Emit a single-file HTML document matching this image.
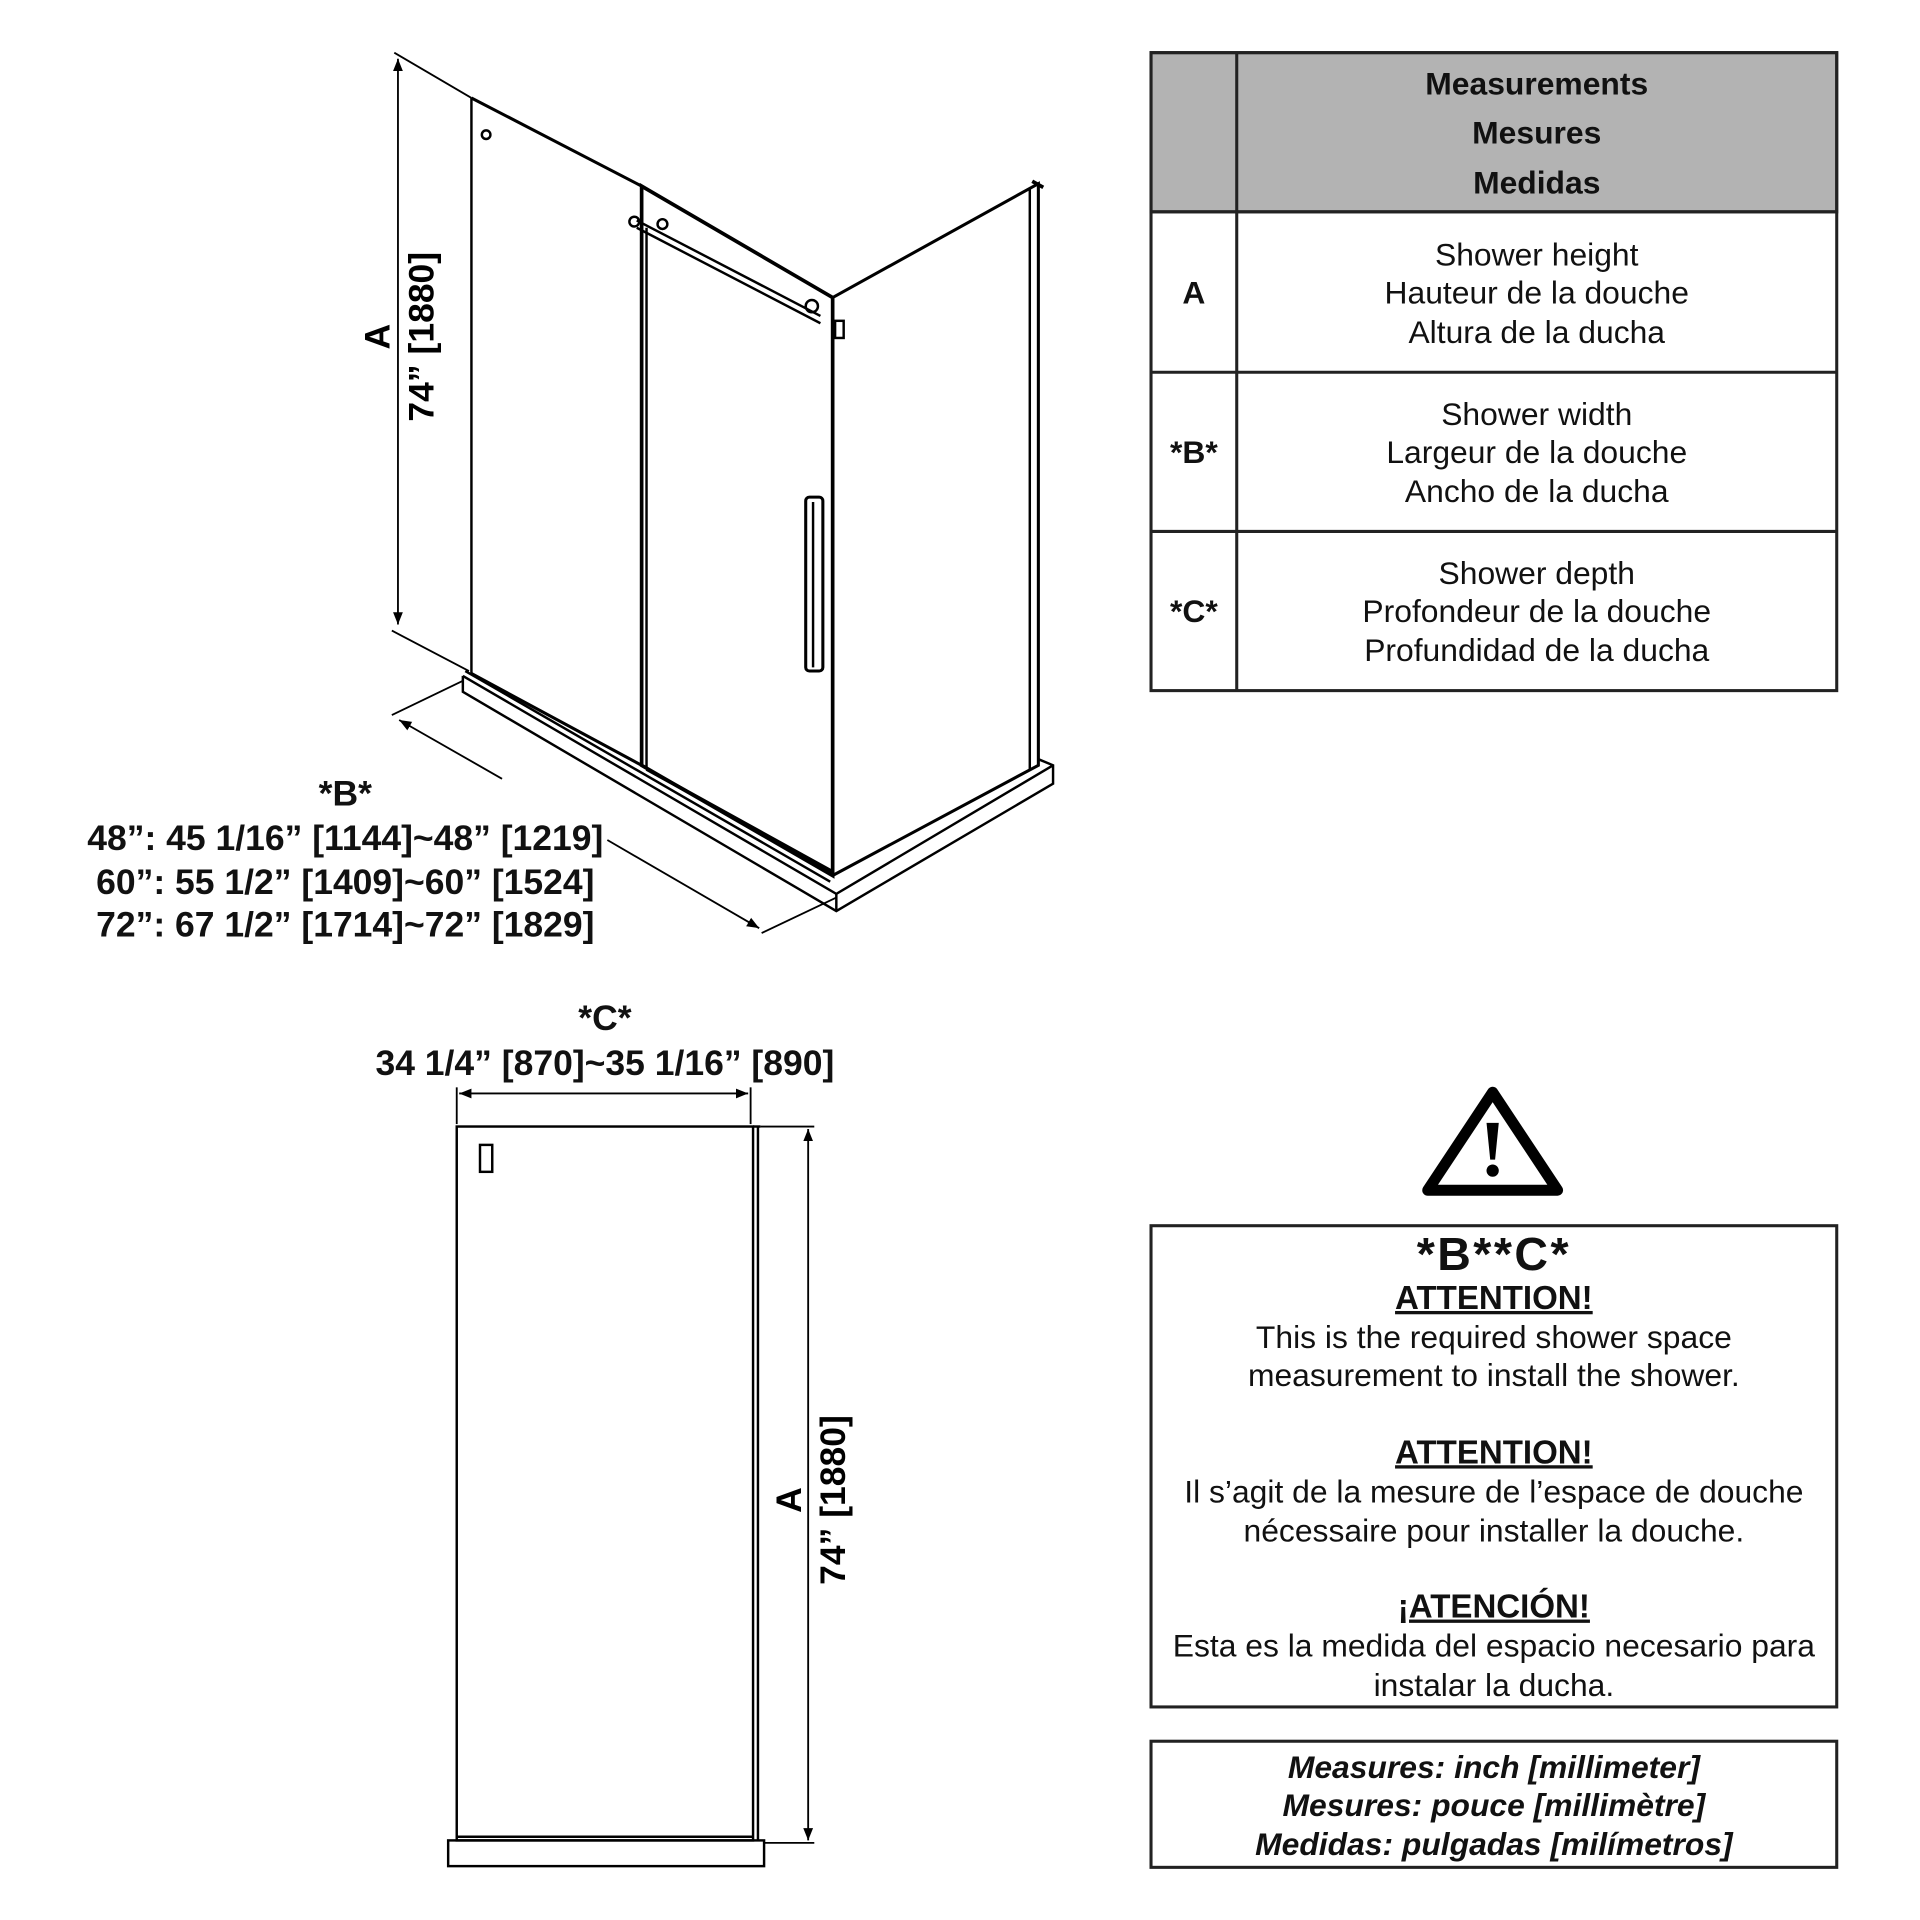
<!DOCTYPE html>
<html><head><style>html,body{margin:0;padding:0;background:#fff}svg{display:block}</style></head><body>
<svg xmlns="http://www.w3.org/2000/svg" width="1920" height="1920" viewBox="0 0 1568 1568" font-family="Liberation Sans, Arial, sans-serif">
<defs><marker id="ar" viewBox="0 0 10 10" refX="10" refY="5" markerWidth="10" markerHeight="10" orient="auto-start-reverse" markerUnits="userSpaceOnUse"><path d="M0,1 L10,5 L0,9 z" fill="#000"/></marker></defs>
<rect width="1568" height="1568" fill="#fff"/>
<!-- Table -->
<g stroke="#222" stroke-width="2.5" fill="none">
<rect x="940" y="43" width="560" height="130" fill="#b3b3b3"/>
<rect x="940" y="43" width="560" height="521"/>
<line x1="1010" y1="43" x2="1010" y2="564"/>
<line x1="940" y1="173" x2="1500" y2="173"/>
<line x1="940" y1="304" x2="1500" y2="304"/>
<line x1="940" y1="434" x2="1500" y2="434"/>
</g>
<g text-anchor="middle" font-size="26" fill="#111">
<g font-weight="bold"><text x="1255" y="77">Measurements</text><text x="1255" y="117">Mesures</text><text x="1255" y="158">Medidas</text>
<text x="975" y="248">A</text><text x="975" y="378">*B*</text><text x="975" y="508">*C*</text></g>
<text x="1255" y="217">Shower height</text><text x="1255" y="248">Hauteur de la douche</text><text x="1255" y="280">Altura de la ducha</text>
<text x="1255" y="347">Shower width</text><text x="1255" y="378">Largeur de la douche</text><text x="1255" y="410">Ancho de la ducha</text>
<text x="1255" y="477">Shower depth</text><text x="1255" y="508">Profondeur de la douche</text><text x="1255" y="540">Profundidad de la ducha</text>
</g>
<!-- Warning triangle -->
<path d="M1219,892 L1272,972 L1166,972 Z" fill="none" stroke="#000" stroke-width="9" stroke-linejoin="round"/>
<path d="M1214,917 L1224,917 L1221,947 L1217,947 Z" fill="#000"/>
<circle cx="1219" cy="956" r="5" fill="#000"/>
<!-- Warning box -->
<rect x="940" y="1001" width="560" height="393" fill="none" stroke="#222" stroke-width="2.5"/>
<g text-anchor="middle" fill="#111" font-size="26">
<text x="1220" y="1037" font-size="38" font-weight="bold" letter-spacing="2">*B**C*</text>
<text x="1220" y="1069" font-size="27" font-weight="bold" text-decoration="underline">ATTENTION!</text>
<text x="1220" y="1101">This is the required shower space</text>
<text x="1220" y="1132">measurement to install the shower.</text>
<text x="1220" y="1195" font-size="27" font-weight="bold" text-decoration="underline">ATTENTION!</text>
<text x="1220" y="1227">Il s’agit de la mesure de l’espace de douche</text>
<text x="1220" y="1259">nécessaire pour installer la douche.</text>
<text x="1220" y="1321" font-size="27" font-weight="bold" text-decoration="underline">¡ATENCIÓN!</text>
<text x="1220" y="1353">Esta es la medida del espacio necesario para</text>
<text x="1220" y="1385">instalar la ducha.</text>
</g>
<rect x="940" y="1422" width="560" height="103" fill="none" stroke="#222" stroke-width="2.5"/>
<g text-anchor="middle" fill="#111" font-size="26" font-weight="bold" font-style="italic">
<text x="1220" y="1452">Measures: inch [millimeter]</text>
<text x="1220" y="1483">Mesures: pouce [millimètre]</text>
<text x="1220" y="1515">Medidas: pulgadas [milímetros]</text>
</g>
<!-- 3D shower -->
<g stroke="#000" fill="none" stroke-width="2">
<line x1="322" y1="43" x2="385" y2="80" stroke-width="1.5"/>
<line x1="320" y1="515" x2="383" y2="548" stroke-width="1.5"/>
<line x1="325" y1="48" x2="325" y2="510" stroke-width="1.5" marker-start="url(#ar)" marker-end="url(#ar)"/>
<line x1="385" y1="80" x2="385" y2="550"/>
<line x1="385" y1="80" x2="524" y2="152" stroke-width="2.5"/>
<line x1="385" y1="550" x2="524" y2="625" stroke-width="2.5"/>
<circle cx="397" cy="110" r="3.5"/>
<path d="M524,152 L680,243 L680,715 L524,625 Z" stroke-width="3"/>
<line x1="528" y1="186" x2="528" y2="628" stroke-width="2"/>
<line x1="520" y1="180" x2="670" y2="258" stroke-width="2"/>
<line x1="520" y1="186" x2="670" y2="264" stroke-width="2"/>
<circle cx="518" cy="181" r="4"/><circle cx="541" cy="183" r="4"/><circle cx="663" cy="250" r="5"/>
<rect x="682" y="262" width="7" height="14"/>
<path d="M680,243 L848,150 L848,625 L680,715" stroke-width="2.5"/>
<line x1="841" y1="154" x2="841" y2="628"/>
<line x1="843" y1="148" x2="852" y2="153" stroke-width="3"/>
<rect x="658" y="406" width="14" height="142" rx="3" stroke-width="2.5"/>
<line x1="664" y1="410" x2="664" y2="545"/>
<path d="M378,552 L378,565 L683,744 L860,640 L860,625 L848,620"/>
<path d="M378,552 L683,730 L860,625"/>
<line x1="380" y1="548" x2="678" y2="720" stroke-width="2"/>
<line x1="528" y1="628" x2="680" y2="712" stroke-width="3"/>
<line x1="683" y1="730" x2="683" y2="744"/>
<line x1="320" y1="584" x2="378" y2="556" stroke-width="1.5"/>
<line x1="622" y1="762" x2="683" y2="733" stroke-width="1.5"/>
<line x1="326" y1="588" x2="410" y2="636" stroke-width="1.5" marker-start="url(#ar)"/>
<line x1="496" y1="686" x2="620" y2="758" stroke-width="1.5" marker-end="url(#ar)"/>
</g>
<text transform="translate(318,275) rotate(-90)" text-anchor="middle" font-size="29" font-weight="bold">A</text>
<text transform="translate(354,275) rotate(-90)" text-anchor="middle" font-size="29" font-weight="bold">74” [1880]</text>
<g text-anchor="middle" font-size="29" font-weight="bold" fill="#111">
<text x="282" y="658">*B*</text>
<text x="282" y="694">48”: 45 1/16” [1144]~48” [1219]</text>
<text x="282" y="730">60”: 55 1/2” [1409]~60” [1524]</text>
<text x="282" y="765">72”: 67 1/2” [1714]~72” [1829]</text>
<text x="494" y="841">*C*</text>
<text x="494" y="878">34 1/4” [870]~35 1/16” [890]</text>
</g>
<!-- Side view -->
<g stroke="#000" fill="none" stroke-width="2">
<line x1="373" y1="888" x2="373" y2="918" stroke-width="1.5"/>
<line x1="613" y1="888" x2="613" y2="918" stroke-width="1.5"/>
<line x1="375" y1="893" x2="611" y2="893" stroke-width="1.5" marker-start="url(#ar)" marker-end="url(#ar)"/>
<rect x="373" y="920" width="242" height="583"/>
<line x1="619" y1="920" x2="619" y2="1503"/>
<line x1="615" y1="920" x2="621" y2="920"/>
<rect x="392" y="935" width="10" height="22"/>
<rect x="366" y="1503" width="258" height="21"/>
<line x1="373" y1="1500" x2="615" y2="1500"/>
<line x1="621" y1="920" x2="665" y2="920" stroke-width="1.5"/>
<line x1="624" y1="1505" x2="665" y2="1505" stroke-width="1.5"/>
<line x1="660" y1="922" x2="660" y2="1503" stroke-width="1.5" marker-start="url(#ar)" marker-end="url(#ar)"/>
</g>
<text transform="translate(654,1225) rotate(-90)" text-anchor="middle" font-size="29" font-weight="bold">A</text>
<text transform="translate(690,1225) rotate(-90)" text-anchor="middle" font-size="29" font-weight="bold">74” [1880]</text>
</svg>
</body></html>
